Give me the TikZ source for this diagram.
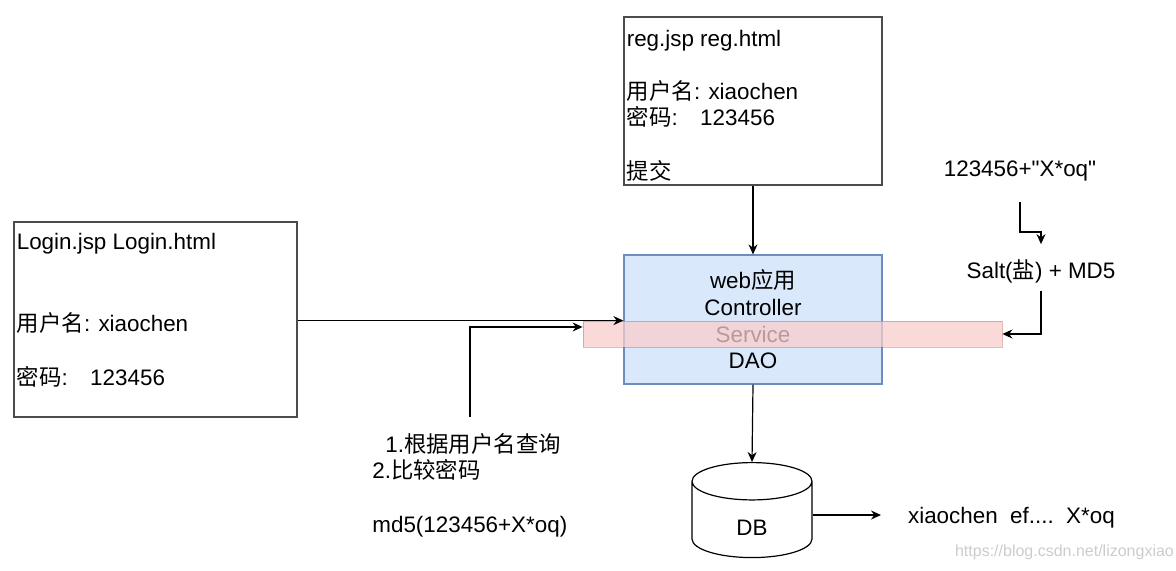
\documentclass[tikz,border=0pt]{standalone}
\usepackage{fontspec}
\setmainfont{Liberation Sans}[Ligatures=TeXOff]
\newfontfamily\cjk{Noto Sans CJK SC}
\newcommand{\zh}[1]{{\cjk #1}}
\usepackage{xcolor}
\usetikzlibrary{shapes.geometric, arrows.meta, positioning, calc}
\definecolor{webfill}{HTML}{DAE8FC}
\definecolor{webline}{HTML}{6C8EBF}
\definecolor{barfill}{HTML}{F8CECC}
\definecolor{barline}{HTML}{B85450}

\begin{document}
\begin{tikzpicture}[x=0.5pt, y=-0.5pt,
  every node/.style={font=\fontsize{11.2}{13.3}\selectfont},
  pagebox/.style={draw=black!70, line width=0.6pt, minimum width=#1},
  arr/.style={-{Stealth[length=5pt,width=4.5pt]}, line width=0.6pt}]
\useasboundingbox (0,0) rectangle (1176,571);
% Pages
\node[pagebox=141.5pt, minimum height=97.5pt] (login) at (155.5,319.5) {};
\node[anchor=north west, align=left, inner sep=1.5pt] (logintext) at ([yshift=-4pt]login.north west)
  {Login.jsp Login.html\\[28pt]\zh{用户名}: xiaochen\\[13.5pt]\zh{密码}:\quad 123456};
\node[pagebox=129pt, minimum height=84pt] (reg) at (753,101) {};
\node[anchor=north west, align=left, inner sep=1.5pt] (regtext) at ([yshift=-5pt]reg.north west)
  {reg.jsp reg.html\\[13.3pt]\zh{用户名}: xiaochen\\\zh{密码}:\quad 123456\\[13.3pt]\zh{提交}};
% Web application and Service layer
\node[draw=webline, fill=webfill, line width=0.6pt, minimum width=129pt, minimum height=64.5pt, align=center]
  (web) at (753,319.5) {web\zh{应用}\\Controller\\Service\\DAO};
\node[draw=barline, draw opacity=0.4, fill=barfill, fill opacity=0.75, minimum width=209.5pt, minimum height=13pt]
  (bar) at (792.5,334) {};
% Database
\node[draw, cylinder, shape border rotate=90, aspect=2.8, minimum width=60pt, minimum height=47.5pt, line width=0.6pt,
  label={[yshift=-2pt]center:DB}] (db) at (752,524) {};
\node[anchor=base west] (record) at (901,523) {xiaochen\ \ ef....\ \ X*oq};
% Salt
\node[anchor=base] (hashin) at (1020,177) {123456+"X*oq"};
\node[anchor=base] (salt) at (1041,279) {Salt(\zh{盐}) + MD5};
% Notes
\node[anchor=north west, align=left, inner sep=0pt] (query) at (372,433)
  {\hspace{6.5pt}1.\zh{根据用户名查询}\\2.\zh{比较密码}\\[13.5pt]md5(123456+X*oq)};
\coordinate (qfoot) at (470,417);
% Connectors
\draw[arr] (reg.south) -- (web.north);
\draw[arr] (login.east |- bar.north) -- (web.west |- bar.north);
\draw[arr] (qfoot) |- ([yshift=3.5pt]bar.west);
\draw[arr] (web.south) -- (db.north);
\draw[arr, shorten >=10pt] ([yshift=4.5pt]db.east) -- ([yshift=4.5pt]db.east -| record.west);
\draw[arr, shorten >=4.5pt] ([yshift=-12.5pt]hashin.base) -- ++(0,30) -| (salt.north);
\draw[arr] (salt.south) |- (bar.east);
% Watermark
\node[anchor=base west, text=black!20, font=\fontsize{8}{9}\selectfont] (mark) at (948,556) {https://blog.csdn.net/lizongxiao};
\end{tikzpicture}
\end{document}
